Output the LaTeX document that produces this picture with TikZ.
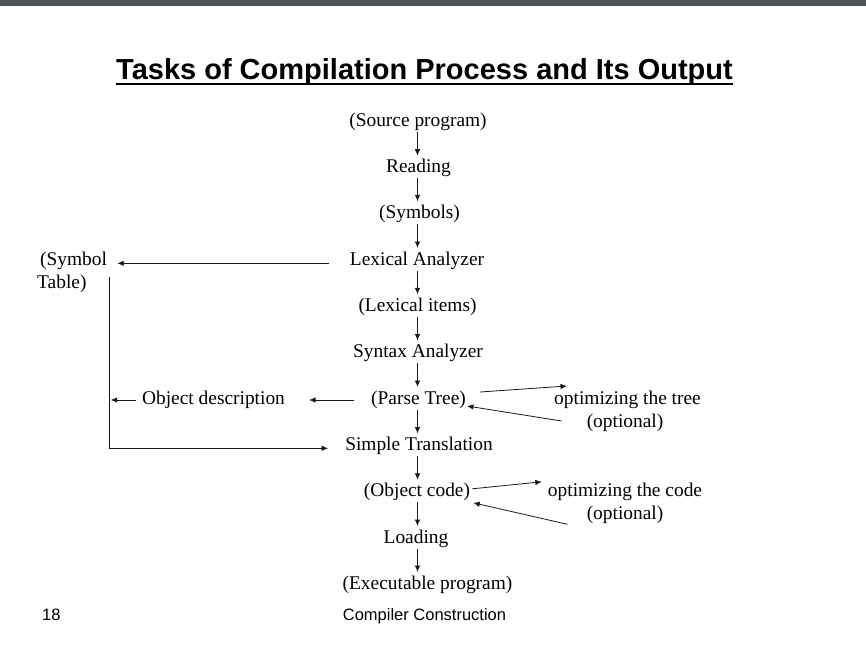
\documentclass[tikz,border=0pt]{standalone}
\usepackage{fontspec}
\setmainfont{Liberation Serif}
\newfontfamily\arialfont{Liberation Sans}
\usetikzlibrary{arrows.meta,calc}
\definecolor{topbar}{RGB}{80,84,87}
\begin{document}
\begin{tikzpicture}[x=1pt,y=-1pt,
  txt/.style={inner sep=0pt, anchor=base, font=\fontsize{19.4}{23}\selectfont},
  txtl/.style={inner sep=0pt, anchor=base west, font=\fontsize{19.4}{23}\selectfont},
  foot/.style={inner sep=0pt, anchor=base, font=\arialfont\fontsize{16.5}{20}\selectfont},
  arr/.style={draw=black!90, line width=0.8pt, -{Latex[length=6.5pt,width=5.5pt]}}]
\useasboundingbox[fill=white] (0,0) rectangle (866,651);
\fill[topbar] (0,0) rectangle (866,6);
% title
\node[inner sep=0pt, anchor=base, font=\arialfont\bfseries\fontsize{29}{34}\selectfont] (title) at (424.5,79) {Tasks of Compilation Process and Its Output};
\draw[line width=2pt] ($(title.base west)+(0,4.5)$) -- ($(title.base east)+(0,4.5)$);
% main column
\coordinate (ax) at (417.5,0);
\node[txt] (src) at (418,126) {(Source program)};
\node[txt] (read) at (418.5,172.7) {Reading};
\node[txt] (sym) at (419.5,218.3) {(Symbols)};
\node[txt] (lex) at (417,265) {Lexical Analyzer};
\node[txt] (items) at (417.5,311.3) {(Lexical items)};
\node[txt] (syn) at (418,357.5) {Syntax Analyzer};
\node[txt] (parse) at (418.5,404) {(Parse Tree)};
\node[txt] (simple) at (419,450.5) {Simple Translation};
\node[txt] (obj) at (417,496.8) {(Object code)};
\node[txt] (load) at (416,543) {Loading};
\node[txt] (exec) at (427.5,589) {(Executable program)};
% left side
\node[txtl] (symA) at (40,265) {(Symbol};
\node[txtl] (symB) at (37,288) {Table)};
\node[txt] (objd) at (213.5,404) {Object description};
% right side
\node[txt] (optT1) at (627.5,404) {optimizing the tree};
\node[txt] (optT2) at (625,427) {(optional)};
\node[txt] (optC1) at (625,496.8) {optimizing the code};
\node[txt] (optC2) at (625,519.8) {(optional)};
% footer
\node[foot, anchor=base west] (pg) at (42,620) {18};
\node[foot] (cc) at (424.5,620) {Compiler Construction};
% vertical arrows
\foreach \a/\b in {src/read,read/sym,sym/lex,lex/items,items/syn,syn/parse,parse/simple,simple/obj,obj/load,load/exec}
  \draw[arr] ($(\a.base -| ax)+(0,5.5)$) -- ($(\b.base -| ax)+(0,-17)$);
% symbol table
\draw[arr] ($(lex.base west)+(-21,-1.7)$) -- ($(symA.base east)+(10,-1.7)$);
\coordinate (vt) at ($(symA.base east)+(2,12)$);
\draw[arr] (vt) |- ($(simple.base west)+(-17,-2.2)$);
\draw[arr] ($(objd.base west)+(-6,-4)$) -- ($(vt |- objd.base)+(1.5,-4)$);
\draw[arr] ($(parse.base west)+(-17,-4)$) -- ($(objd.base east)+(24,-4)$);
% optimizations
\draw[arr] ($(parse.base east)+(14,-12)$) -- ($(optT1.base west)+(13,-18)$);
\draw[arr] ($(optT2.base west)+(-25,-6)$) -- ($(parse.base east)+(1,2)$);
\draw[arr] ($(obj.base east)+(2,-8)$) -- ($(optC1.base west)+(-6,-15)$);
\draw[arr] ($(optC2.base west)+(-19,4.5)$) -- ($(obj.base east)+(3,6)$);
\end{tikzpicture}
\end{document}
